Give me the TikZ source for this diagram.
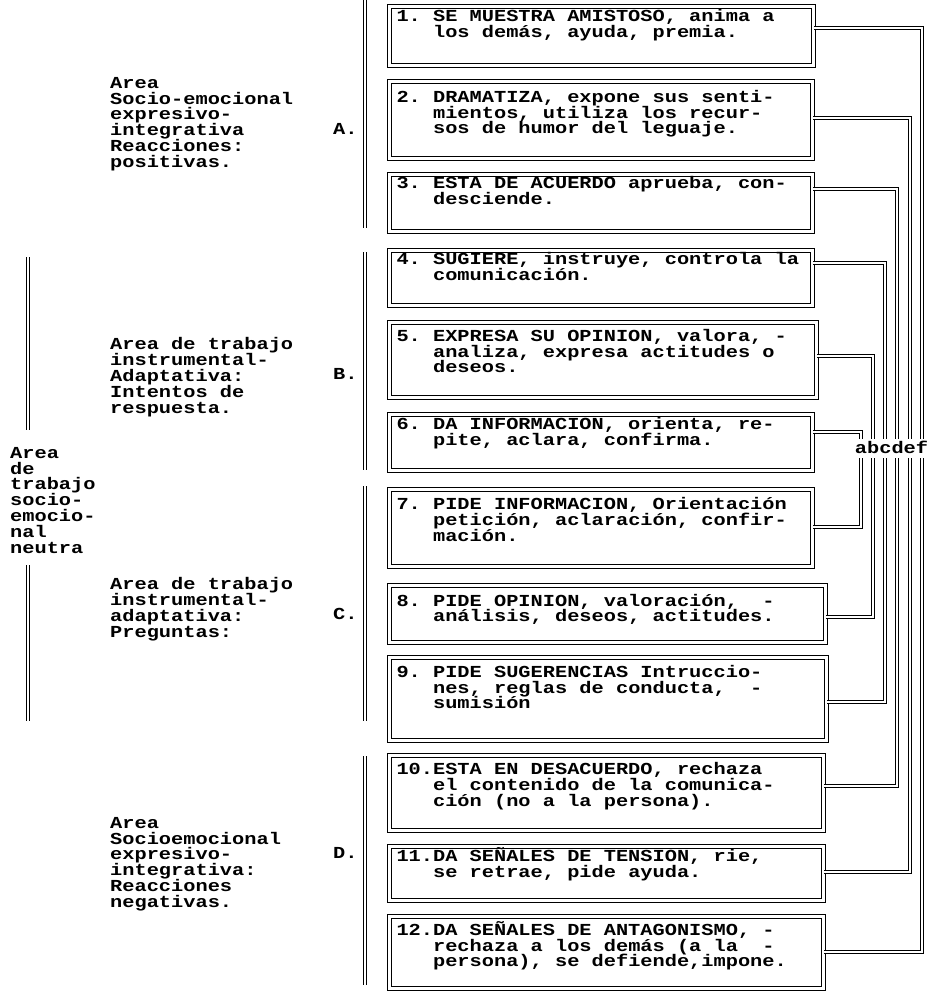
\documentclass[tikz,border=0pt]{standalone}
\usepackage{fontspec}
\newfontfamily\twfont{Liberation Mono}[FakeStretch=1.21]
\newcommand\ind{\phantom{00X}}
\newcommand\lift[1][16]{\rule[-#1pt]{0pt}{#1pt}}
\newcommand\fixsp{\spaceskip=12.2pt\relax\xspaceskip=12.2pt\relax\lineskiplimit=-100pt\relax\lineskip=0pt\relax}
\newcommand\boxfont{\twfont\bfseries\fontsize{16.8}{15.8}\selectfont\frenchspacing\fixsp}
\begin{document}
\begin{tikzpicture}[x=1pt,y=-1pt,
  txt/.style={font=\boxfont, inner sep=0pt, align=left, execute at begin node=\fixsp},
  boxst/.style={draw, double, double distance=2.2pt, line width=1pt, anchor=north west,
    inner xsep=7pt, inner ysep=0pt, align=left, font=\boxfont, execute at begin node=\fixsp},
  conn/.style={draw, double, double distance=2.2pt, line width=1pt},
  brk/.style={draw, double, double distance=2pt, line width=1pt}]
\useasboundingbox (0,0) rectangle (927,991);

% boxes
\node[boxst, text width=410pt, minimum height=59pt] (n1) at (389,6)
  {\fixsp 1. SE MUESTRA AMISTOSO, anima a\\\ind los demás, ayuda, premia.\lift[25]};
\node[boxst, text width=409pt, minimum height=77pt] (n2) at (389,81)
  {\fixsp 2. DRAMATIZA, expone sus senti-\\\ind mientos, utiliza los recur-\\\ind sos de humor del leguaje.\lift};
\node[boxst, text width=409pt, minimum height=57pt] (n3) at (389,174)
  {\fixsp 3. ESTA DE ACUERDO aprueba, con-\\\ind desciende.\lift[25]};
\node[boxst, text width=409pt, minimum height=55pt] (n4) at (389,250)
  {\fixsp 4. SUGIERE, instruye, controla la\\\ind comunicación.\lift[23]};
\node[boxst, text width=413pt, minimum height=75pt] (n5) at (389,322)
  {\fixsp 5. EXPRESA SU OPINION, valora, -\\\ind analiza, expresa actitudes o\\\ind deseos.\lift[18]};
\node[boxst, text width=409pt, minimum height=56pt] (n6) at (389,414)
  {\fixsp 6. DA INFORMACION, orienta, re-\\\ind pite, aclara, confirma.\lift[22]};
\node[boxst, text width=409pt, minimum height=77pt] (n7) at (389,489)
  {\fixsp 7. PIDE INFORMACION, Orientación\\\ind petición, aclaración, confir-\\\ind mación.\lift[17]};
\node[boxst, text width=422pt, minimum height=57pt] (n8) at (389,585)
  {\fixsp 8. PIDE OPINION, valoración,~~-\\\ind análisis, deseos, actitudes.\lift[12]};
\node[boxst, text width=423pt, minimum height=83pt] (n9) at (389,657)
  {\fixsp 9. PIDE SUGERENCIAS Intruccio-\\\ind nes, reglas de conducta,~~-\\\ind sumisión\lift[24]};
\node[boxst, text width=420pt, minimum height=75pt] (n10) at (389,755)
  {\fixsp 10.ESTA EN DESACUERDO, rechaza\\\ind el contenido de la comunica-\\\ind ción (no a la persona).\lift[17]};
\node[boxst, text width=420pt, minimum height=54pt] (n11) at (389,846)
  {\fixsp 11.DA SEÑALES DE TENSION, rie,\\\ind se retrae, pide ayuda.\lift[22]};
\node[boxst, text width=420pt, minimum height=72pt] (n12) at (389,916)
  {\fixsp 12.DA SEÑALES DE ANTAGONISMO, -\\\ind rechaza a los demás (a la~~-\\\ind persona), se defiende,impone.\lift[17]};

% letters
\node[txt, anchor=base] (lab) at (891.5,453) {abcdef};
\foreach \l/\x in {a/861,b/873,c/885,d/897,e/910,f/922}{
  \coordinate (\l T) at (\x,439);
  \coordinate (\l B) at (\x,458);
}

% connectors
\draw[conn] (n1.east |- 0,28) -| (fT);
\draw[conn] (n12.east |- 0,952) -| (fB);
\draw[conn] (n2.east |- 0,118) -| (eT);
\draw[conn] (n11.east |- 0,872) -| (eB);
\draw[conn] (n3.east |- 0,189) -| (dT);
\draw[conn] (n10.east |- 0,786) -| (dB);
\draw[conn] (n4.east |- 0,263) -| (cT);
\draw[conn] (n9.east |- 0,702) -| (cB);
\draw[conn] (n5.east |- 0,356) -| (bT);
\draw[conn] (n8.east |- 0,617) -| (bB);
\draw[conn] (n6.east |- 0,432) -| (aT);
\draw[conn] (n7.east |- 0,527) -| (aB);

% group brackets
\draw[brk] (365,0) -- (365,228);
\draw[brk] (365,252) -- (365,470);
\draw[brk] (365,486) -- (365,721);
\draw[brk] (365,756) -- (365,985);
\draw[brk] (28,257) -- (28,430);
\draw[brk] (28,565) -- (28,721);

% labels
\node[txt, anchor=north west] (la) at (110,77)
  {Area\\Socio-emocional\\expresivo-\\integrativa\\Reacciones:\\positivas.};
\node[txt, anchor=base west] (gA) at (333,134) {A.};
\node[txt, anchor=north west] (lb) at (110,337.5)
  {Area de trabajo\\instrumental-\\Adaptativa:\\Intentos de\\respuesta.};
\node[txt, anchor=base west] (gB) at (333,379) {B.};
\node[txt, anchor=north west] (lm) at (10,447)
  {Area\\de\\trabajo\\socio-\\emocio-\\nal\\neutra};
\node[txt, anchor=north west] (lc) at (110,577.5)
  {Area de trabajo\\instrumental-\\adaptativa:\\Preguntas:};
\node[txt, anchor=base west] (gC) at (333,619) {C.};
\node[txt, anchor=north west] (ld) at (110,817)
  {Area\\Socioemocional\\expresivo-\\integrativa:\\Reacciones\\negativas.};
\node[txt, anchor=base west] (gD) at (333,858) {D.};
\end{tikzpicture}
\end{document}
